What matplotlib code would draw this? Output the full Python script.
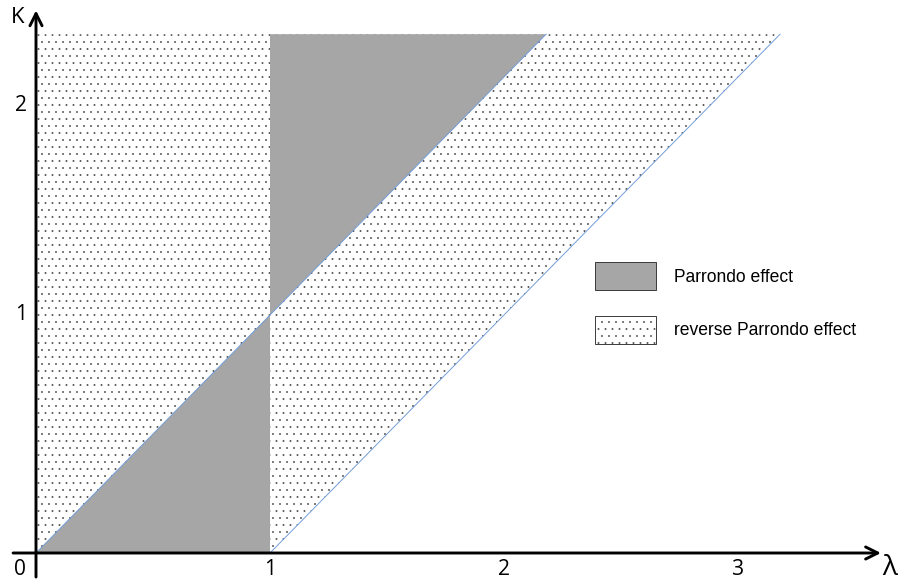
import matplotlib
matplotlib.use("Agg")
import matplotlib.pyplot as plt
from matplotlib.patches import Patch

# boundaries of the regions (kappa on the vertical axis)
kappa_pts = [0.0, 1.0, 2.18]
lam_axis = [0.0, 0.0, 0.0]
lam_one = [1.0, 1.0, 1.0]
lam_diag = [0.0, 1.0, 2.18]      # kappa = lambda
lam_shift = [1.0, 2.0, 3.18]     # kappa = lambda - 1

x_ticks = [0, 1, 2, 3]
x_tick_labels = ["0", "1", "2", "3"]
y_ticks = [1.0, 1.88]
y_tick_labels = ["1", "2"]

legend_labels = ["Parrondo effect", "reverse Parrondo effect"]

GRAY = "#a6a6a6"
BLUE = "#6f9bd8"
DPI = 84

plt.rcParams["hatch.linewidth"] = 0.3
plt.rcParams["font.family"] = ["Open Sans", "DejaVu Sans"]

fig = plt.figure(figsize=(901 / DPI, 585 / DPI), dpi=DPI)
ax = fig.add_axes([0, 0, 1, 1])
ax.set_xlim(-36 / 234, (901 - 36) / 234)
ax.set_ylim(-(585 - 553) / 238, 553 / 238)
ax.set_axis_off()

# dotted region: everything left of kappa = lambda - 1
ax.fill_betweenx(kappa_pts, lam_axis, lam_shift, facecolor="white",
                 edgecolor="0.2", hatch="..", linewidth=0, zorder=1)
# Parrondo region: between lambda = 1 and kappa = lambda
ax.fill_betweenx(kappa_pts, lam_diag, lam_one, facecolor=GRAY,
                 edgecolor="none", linewidth=0, zorder=2)
ax.plot(lam_diag, kappa_pts, color=BLUE, lw=0.8, zorder=3)
ax.plot(lam_shift, kappa_pts, color=BLUE, lw=0.8, zorder=3)

# axes with arrow heads
arrow = dict(arrowstyle="->", lw=2.5, color="black", mutation_scale=26,
             shrinkA=0, shrinkB=0)
ax.annotate("", xy=(3.611, 0), xytext=(-0.098, 0), arrowprops=arrow, zorder=5)
ax.annotate("", xy=(0, 2.28), xytext=(0, -0.101), arrowprops=arrow, zorder=5)

for x, lab in zip(x_ticks, x_tick_labels):
    xp = x - 0.068 if x == 0 else x
    ax.text(xp, -0.071, lab, ha="center", va="center", fontsize=18)
for y, lab in zip(y_ticks, y_tick_labels):
    ax.text(-0.065, y, lab, ha="center", va="center", fontsize=18)

ax.text(-0.077, 2.248, "K", ha="center", va="center", fontsize=19)
ax.text(3.65, -0.063, "λ", ha="center", va="center", fontsize=24)

handles = [
    Patch(facecolor=GRAY, edgecolor="0.2", linewidth=0.8),
    Patch(facecolor="white", edgecolor="0.2", hatch="..", linewidth=0.8),
]
ax.legend(handles, legend_labels, loc="upper left",
          bbox_to_anchor=(595 / 901, 1 - 262 / 585), frameon=False,
          borderpad=0, borderaxespad=0, handlelength=3.5, handleheight=2.1,
          labelspacing=1.45, handletextpad=1.0,
          prop={"family": "Liberation Sans", "size": 15})

fig.savefig("out.png", dpi=DPI)
